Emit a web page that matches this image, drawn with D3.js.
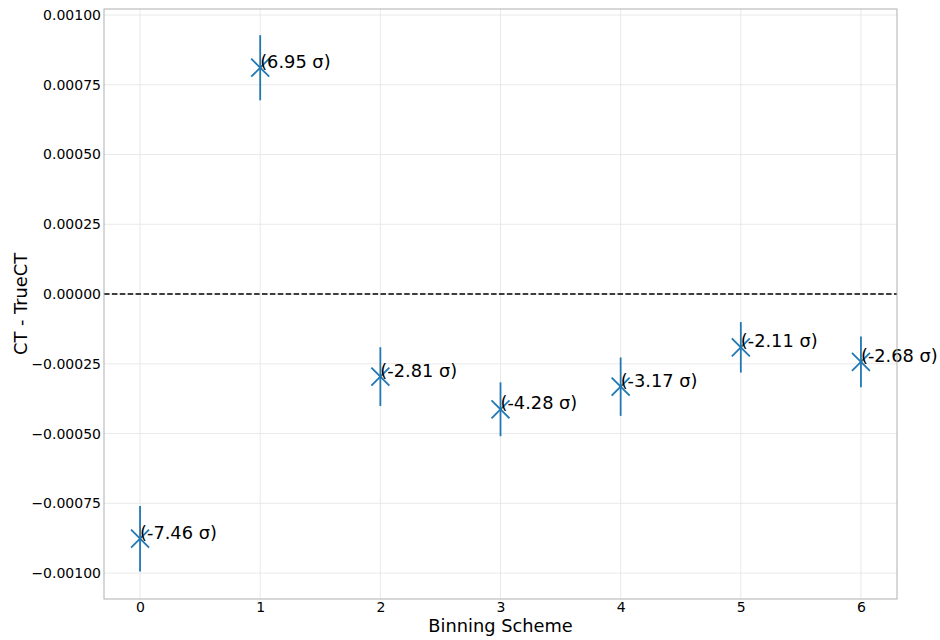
<!DOCTYPE html>
<html>
<head>
<meta charset="utf-8">
<script src="https://cdn.jsdelivr.net/npm/d3@7"></script>
<style>
  html, body { margin: 0; padding: 0; background: #fff; }
  svg { display: block; font-family: "DejaVu Sans", sans-serif; }
</style>
</head>
<body>
<svg id="chart" width="940" height="640"></svg>
<script>
// Offset of the fitted CT from the true CT for each binning scheme
const schemes = [0, 1, 2, 3, 4, 5, 6];
const deltaCT = [-0.000877, 0.000811, -0.000296, -0.000413, -0.000332, -0.000191, -0.000243];
const errors  = [0.0001175, 0.0001167, 0.0001054, 0.0000965, 0.0001047, 0.0000905, 0.0000907];
const sigmas  = ["-7.46", "6.95", "-2.81", "-4.28", "-3.17", "-2.11", "-2.68"];
const yTicks  = [-0.001, -0.00075, -0.0005, -0.00025, 0, 0.00025, 0.0005, 0.00075, 0.001];
const xTicks  = [0, 1, 2, 3, 4, 5, 6];

const margin = { left: 104, right: 43, top: 9, bottom: 41 };
const W = 940, H = 640;
const svg = d3.select("#chart");

const x = d3.scaleLinear().domain([-0.3, 6.3]).range([margin.left, W - margin.right]);
const y = d3.scaleLinear().domain([-0.001093, 0.0010215]).range([H - margin.bottom, margin.top]);

const blue = "#1f77b4";
const gridColor = "#e3e3e3";
const frameColor = "#b0b0b0";

// grid
const grid = svg.append("g");
grid.selectAll(".gx").data(xTicks).join("line")
  .attr("x1", d => x(d)).attr("x2", d => x(d))
  .attr("y1", margin.top).attr("y2", H - margin.bottom)
  .attr("stroke", gridColor).attr("stroke-width", 0.8);
grid.selectAll(".gy").data(yTicks).join("line")
  .attr("y1", d => y(d)).attr("y2", d => y(d))
  .attr("x1", margin.left).attr("x2", W - margin.right)
  .attr("stroke", gridColor).attr("stroke-width", 0.8);

// axes (tick labels only; the frame is drawn separately)
const fmt = d => {
  const s = d3.format(".5f")(Math.abs(d));
  return d < 0 ? "\u2212" + s : s;
};
const yAxis = svg.append("g")
  .attr("transform", `translate(${margin.left},0)`)
  .call(d3.axisLeft(y).tickValues(yTicks).tickFormat(fmt).tickSize(0).tickPadding(3));
const xAxis = svg.append("g")
  .attr("transform", `translate(0,${H - margin.bottom})`)
  .call(d3.axisBottom(x).tickValues(xTicks).tickFormat(d3.format("d")).tickSize(0).tickPadding(3));
[yAxis, xAxis].forEach(a => {
  a.select(".domain").remove();
  a.attr("font-size", 14).attr("font-family", "DejaVu Sans, sans-serif");
  a.selectAll("text").attr("fill", "#000");
});

// zero reference line
svg.append("line")
  .attr("x1", margin.left).attr("x2", W - margin.right)
  .attr("y1", y(0)).attr("y2", y(0))
  .attr("stroke", "#000").attr("stroke-width", 1.5)
  .attr("stroke-dasharray", "5.5,2.4");

const pts = schemes.map((s, i) => ({ s, v: deltaCT[i], e: errors[i], sig: sigmas[i] }));

// error bars
svg.append("g").selectAll("line").data(pts).join("line")
  .attr("x1", d => x(d.s)).attr("x2", d => x(d.s))
  .attr("y1", d => y(d.v - d.e)).attr("y2", d => y(d.v + d.e))
  .attr("stroke", blue).attr("stroke-width", 1.8);

// x markers
const m = 9;
const mk = svg.append("g").selectAll("g").data(pts).join("g")
  .attr("transform", d => `translate(${x(d.s)},${y(d.v)})`);
mk.append("line").attr("x1", -m).attr("y1", -m).attr("x2", m).attr("y2", m)
  .attr("stroke", blue).attr("stroke-width", 1.8);
mk.append("line").attr("x1", -m).attr("y1", m).attr("x2", m).attr("y2", -m)
  .attr("stroke", blue).attr("stroke-width", 1.8);

// significance annotations
svg.append("g").selectAll("text").data(pts).join("text")
  .attr("x", d => x(d.s)).attr("y", d => y(d.v))
  .attr("font-size", 17.8).attr("fill", "#000")
  .text(d => `(${d.sig} \u03c3)`);

// frame
svg.append("rect")
  .attr("x", margin.left).attr("y", margin.top)
  .attr("width", W - margin.left - margin.right)
  .attr("height", H - margin.top - margin.bottom)
  .attr("fill", "none").attr("stroke", frameColor).attr("stroke-width", 1);

// axis titles
svg.append("text")
  .attr("x", (margin.left + W - margin.right) / 2).attr("y", 632)
  .attr("text-anchor", "middle").attr("font-size", 17.8).attr("fill", "#000")
  .text("Binning Scheme");
svg.append("text")
  .attr("transform", `translate(27,${(margin.top + H - margin.bottom) / 2}) rotate(-90)`)
  .attr("text-anchor", "middle").attr("font-size", 17.8).attr("fill", "#000")
  .text("CT - TrueCT");
</script>
</body>
</html>
